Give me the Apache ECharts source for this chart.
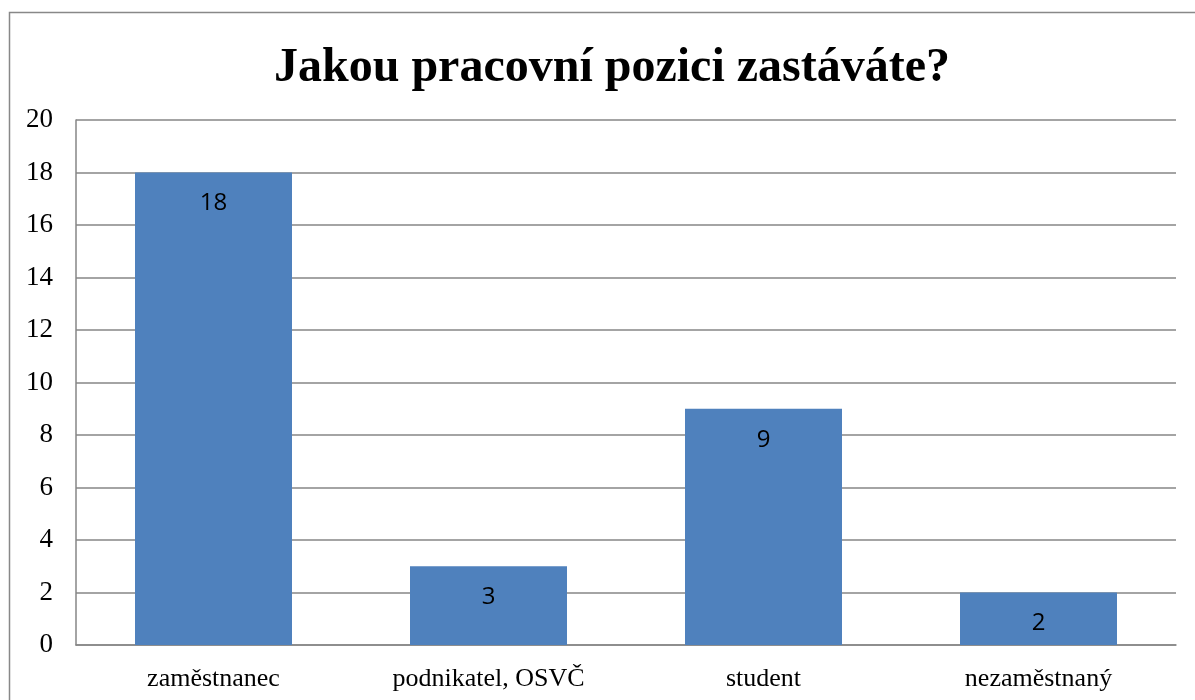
<!DOCTYPE html>
<html>
<head>
<meta charset="utf-8">
<script src="https://cdn.jsdelivr.net/npm/echarts@6/dist/echarts.min.js"></script>
<style>
html, body { margin: 0; padding: 0; background: #fff; }
#chart { width: 1195px; height: 700px; }
</style>
</head>
<body>
<div id="chart"></div>
<script>
// kategorie a hodnoty
var categories = ['zaměstnanec', 'podnikatel, OSVČ', 'student', 'nezaměstnaný'];
var values = [18, 3, 9, 2];
var titleText = 'Jakou pracovní pozici zastáváte?';

var chart = echarts.init(document.getElementById('chart'));
var option = {
    animation: false,
    backgroundColor: '#fff',
    title: {
        text: titleText,
        left: 607,
        top: 40,
        textAlign: 'center',
        textStyle: {
            fontFamily: 'Liberation Serif',
            fontWeight: 'bold',
            fontSize: 48,
            color: '#000'
        }
    },
    graphic: [{
        type: 'rect',
        shape: { x: 9.5, y: 12.5, width: 1200, height: 700 },
        style: { fill: 'none', stroke: '#888', lineWidth: 1.5 },
        silent: true
    }],
    grid: {
        left: 76,
        right: 19,
        top: 120,
        bottom: 55,
        containLabel: false
    },
    xAxis: {
        type: 'category',
        data: categories,
        axisTick: { show: false },
        axisLine: { lineStyle: { color: '#868686', width: 1.5 } },
        axisLabel: {
            fontFamily: 'Liberation Serif',
            fontSize: 26,
            color: '#000',
            margin: 21
        }
    },
    yAxis: {
        type: 'value',
        min: 0,
        max: 20,
        interval: 2,
        axisLine: { show: true, lineStyle: { color: '#868686', width: 1.5 } },
        axisTick: { show: false },
        splitLine: { lineStyle: { color: '#868686', width: 1.5 } },
        axisLabel: {
            fontFamily: 'Liberation Serif',
            fontSize: 27,
            color: '#000',
            margin: 23
        }
    },
    series: [{
        type: 'bar',
        data: values,
        barWidth: 157,
        itemStyle: { color: '#4F81BD' },
        label: {
            show: true,
            position: 'insideTop',
            distance: 19,
            fontFamily: 'Open Sans',
            fontSize: 24,
            color: '#000'
        }
    }]
};
chart.setOption(option);
</script>
</body>
</html>
